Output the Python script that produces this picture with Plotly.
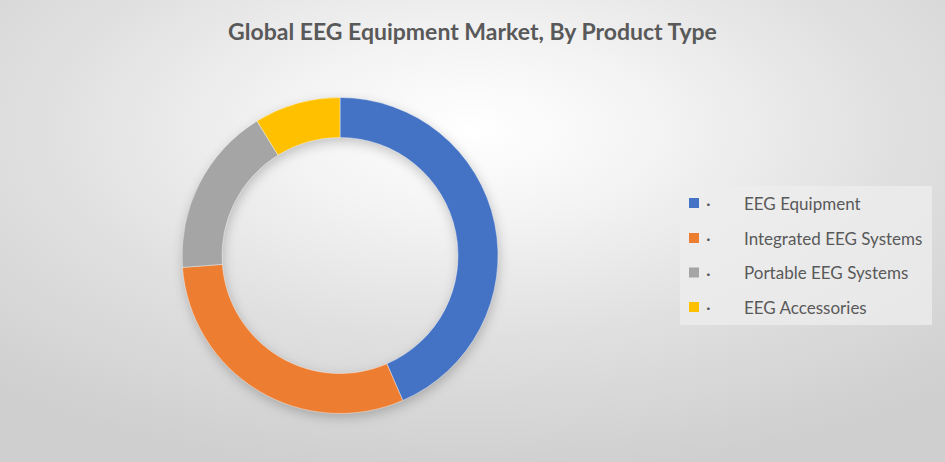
import base64
import plotly.graph_objects as go

# ---- data ----
labels = ["EEG Equipment", "Integrated EEG Systems", "Portable EEG Systems", "EEG Accessories"]
values = [43.5, 30.3, 17.4, 8.8]
colors = ["#4472C4", "#ED7D31", "#A5A5A5", "#FFC000"]
title_text = "Global EEG Equipment Market, By Product Type"

W, H = 945, 462
cx, cy, r_out, r_in = 340, 255.5, 158, 118

# ---- background: radial gradient + soft shadow of the ring ----
svg = f'''<svg xmlns="http://www.w3.org/2000/svg" width="{W}" height="{H}" viewBox="0 0 {W} {H}">
<defs>
<radialGradient id="g" cx="50%" cy="28%" r="75%" fx="50%" fy="28%">
<stop offset="0" stop-color="#ffffff"/>
<stop offset="0.25" stop-color="#f4f4f4"/>
<stop offset="0.6" stop-color="#e0e0e0"/>
<stop offset="1" stop-color="#cfcfcf"/>
</radialGradient>
<filter id="b" x="-30%" y="-30%" width="160%" height="160%"><feGaussianBlur stdDeviation="6"/></filter>
</defs>
<rect x="0" y="0" width="{W}" height="{H}" fill="url(#g)"/>
<circle cx="{cx + 1}" cy="{cy + 4}" r="{(r_out + r_in) / 2}" fill="none" stroke="#000" stroke-opacity="0.22" stroke-width="{r_out - r_in}" filter="url(#b)"/>
</svg>'''
bg_uri = "data:image/svg+xml;base64," + base64.b64encode(svg.encode()).decode()

fig = go.Figure()
fig.add_trace(go.Pie(
    labels=labels,
    values=values,
    marker=dict(colors=colors, line=dict(color="rgba(255,255,255,0.5)", width=0.8)),
    hole=r_in / r_out,
    sort=False,
    direction="clockwise",
    rotation=0,
    textinfo="none",
    hoverinfo="label+percent",
    showlegend=False,
    domain=dict(x=[(cx - r_out) / W, (cx + r_out) / W],
                y=[(H - cy - r_out) / H, (H - cy + r_out) / H]),
))

# ---- manual legend ----
shapes = [dict(type="rect", xref="paper", yref="paper",
               x0=680 / W, x1=932 / W, y0=1 - 325 / H, y1=1 - 186 / H,
               fillcolor="rgba(238,238,238,0.75)", line=dict(width=0), layer="below")]
annotations = []
row_y = [203, 238, 272.5, 307]
for lab, col, yy in zip(labels, colors, row_y):
    shapes.append(dict(type="rect", xref="paper", yref="paper",
                       x0=689 / W, x1=699 / W, y0=1 - (yy + 5) / H, y1=1 - (yy - 5) / H,
                       fillcolor=col, line=dict(width=0)))
    annotations.append(dict(text="·", xref="paper", yref="paper", x=704 / W, y=1 - yy / H,
                            xanchor="left", yanchor="middle", showarrow=False,
                            font=dict(family="Lato", size=18, color="#595959")))
    annotations.append(dict(text=lab, xref="paper", yref="paper", x=742 / W, y=1 - yy / H,
                            xanchor="left", yanchor="middle", showarrow=False,
                            font=dict(family="Lato", size=17, color="#595959")))

fig.update_layout(
    width=W, height=H,
    margin=dict(l=0, r=0, t=0, b=0),
    paper_bgcolor="#ffffff",
    plot_bgcolor="rgba(0,0,0,0)",
    title=dict(text=f"<b>{title_text}</b>", x=0.5, xanchor="center", y=1 - 32 / H, yanchor="middle",
               font=dict(family="Lato", size=23, color="#595959")),
    images=[dict(source=bg_uri, xref="paper", yref="paper", x=0, y=1, sizex=1, sizey=1,
                 xanchor="left", yanchor="top", sizing="stretch", layer="below")],
    shapes=shapes,
    annotations=annotations,
)

fig.write_html("out.html",
               config={"displayModeBar": False},
               post_script="document.body.style.margin='0';document.body.style.overflow='hidden';")
